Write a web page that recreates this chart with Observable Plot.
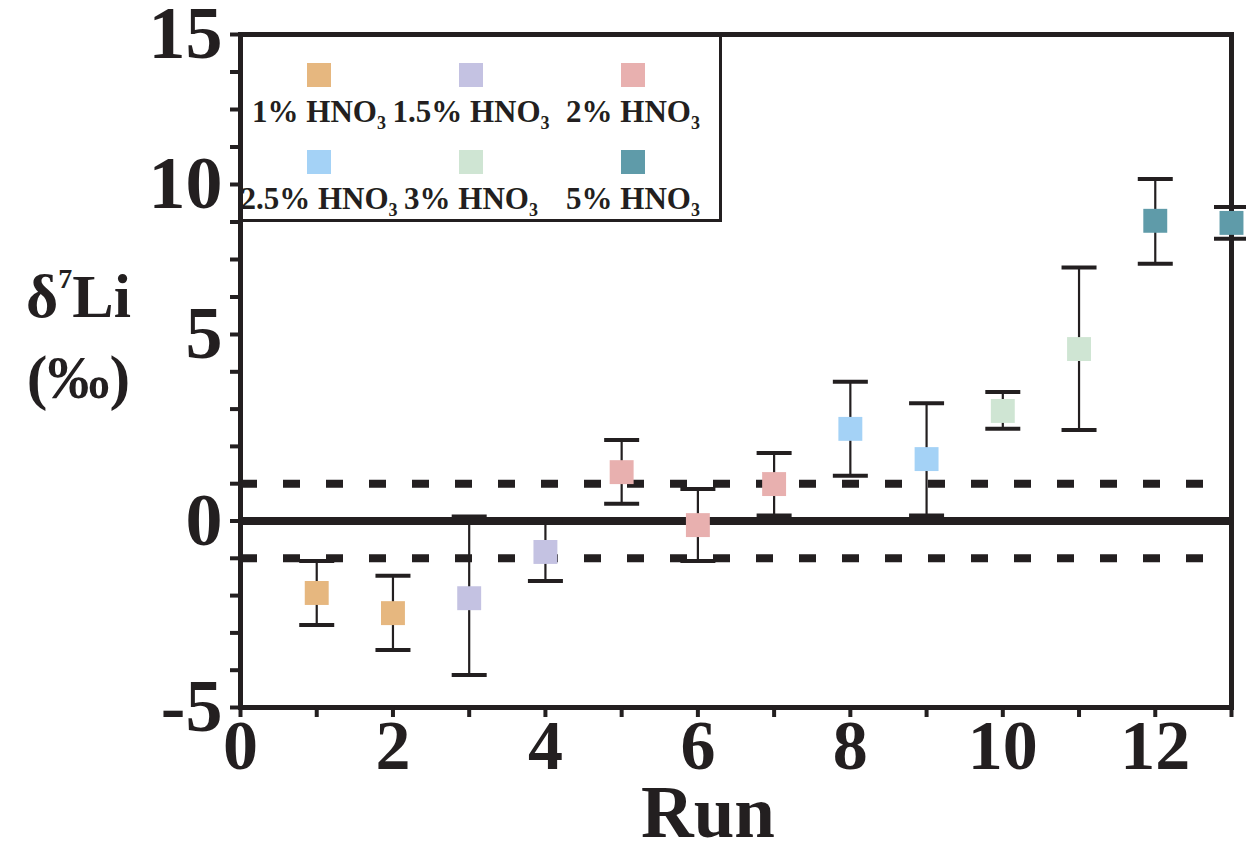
<!DOCTYPE html>
<html>
<head>
<meta charset="utf-8">
<script src="https://cdn.jsdelivr.net/npm/d3@7"></script>
<script src="https://cdn.jsdelivr.net/npm/@observablehq/plot@0.6"></script>
<style>
  body { margin: 0; background: #fff; }
  #wrap { position: relative; width: 1246px; height: 843px; font-family: "Liberation Serif", "Times New Roman", serif; font-weight: bold; color: #231f20; }
  #legend { position: absolute; left: 240px; top: 34px; width: 482px; height: 188px; box-sizing: border-box; border: 3px solid #231f20; background: #fff;
            display: grid; grid-template-columns: 152px 152px 172px; grid-auto-rows: 64px; row-gap: 23px; padding-top: 26px; }
  .item { display: flex; flex-direction: column; align-items: center; }
  .sw { width: 24px; height: 24px; }
  .lab { margin-top: 9px; font-size: 31px; line-height: 31px; white-space: nowrap; }
  .lab sub { font-size: 18px; line-height: 0; vertical-align: -7px; }
  #ylab { position: absolute; left: 0; top: 256px; width: 157px; text-align: center; font-size: 62px; line-height: 81px; }
  #ylab sup { font-size: 28px; line-height: 0; vertical-align: 29px; }
</style>
</head>
<body>
<div id="wrap">
  <div id="chart"></div>
  <div id="legend"></div>
  <div id="ylab">δ<sup>7</sup>Li<br>(‰)</div>
</div>
<script>
// ---- data ----
const runs  = [1, 2, 3, 4, 5, 6, 7, 8, 9, 10, 11, 12, 13];
const means = [-1.93, -2.47, -2.07, -0.83, 1.31, -0.11, 0.99, 2.47, 1.66, 2.95, 4.61, 8.79, 8.72];
const lower = [-2.79, -3.46, -4.13, -1.61, 0.46, -1.07, 0.15, 1.21, 0.15, 2.47, 2.44, 7.36, 8.19];
const upper = [-1.07, -1.47, 0.12, 0.02, 2.17, 0.86, 1.82, 3.73, 3.16, 3.46, 7.23, 10.18, 9.25];
const acidOfRun = ["1%", "1%", "1.5%", "1.5%", "2%", "2%", "2%", "2.5%", "2.5%", "3%", "3%", "5%", "5%"];
const acidLevels = ["1%", "1.5%", "2%", "2.5%", "3%", "5%"];
const acidColors = ["#e6b77f", "#c4c2e2", "#e8b0af", "#a4d2f6", "#cfe5d3", "#5f9ba9"];
const refLevels = [1, -1];
const xTicks = [0, 1, 2, 3, 4, 5, 6, 7, 8, 9, 10, 11, 12, 13];
const xLabels = [0, 2, 4, 6, 8, 10, 12];
const yTicks = [-5, -4, -3, -2, -1, 0, 1, 2, 3, 4, 5, 6.25, 7.5, 8.75, 10, 11.25, 12.5, 13.75, 15];
const yLabels = [-5, 0, 5, 10, 15];

const data = runs.map((r, i) => ({run: r, mean: means[i], lo: lower[i], hi: upper[i], acid: acidOfRun[i]}));
const ink = "#231f20";

const capSymbol = {
  draw(context) {
    context.moveTo(-17.5, 0);
    context.lineTo(17.5, 0);
  }
};

const plot = Plot.plot({
  width: 1246,
  height: 843,
  marginLeft: 240,
  marginRight: 15,
  marginTop: 34,
  marginBottom: 136,
  style: {fontFamily: "'Liberation Serif', 'Times New Roman', serif", fontWeight: "bold", color: ink, background: "#fff", overflow: "visible"},
  x: {domain: [0, 13], label: null},
  y: {type: "linear", domain: [-5, 5, 15], range: [707, 334, 34], nice: false, label: null},
  color: {domain: acidLevels, range: acidColors},
  marks: [
    Plot.frame({stroke: ink, strokeWidth: 5}),
    Plot.ruleY(refLevels, {stroke: ink, strokeWidth: 8, strokeDasharray: "17,26"}),
    Plot.ruleY([0], {stroke: ink, strokeWidth: 8}),
    Plot.axisX(xTicks, {label: null, tickSize: 10, tickPadding: 2, strokeWidth: 4, stroke: ink, fontSize: 70,
      tickFormat: d => xLabels.includes(d) ? String(d) : ""}),
    Plot.axisY(yTicks, {label: null, tickSize: 10, tickPadding: 8, strokeWidth: 4, stroke: ink, fontSize: 74,
      tickFormat: d => yLabels.includes(d) ? String(d) : ""}),
    Plot.ruleX(data, {x: "run", y1: "lo", y2: "hi", stroke: ink, strokeWidth: 2.2}),
    Plot.dot(data, {x: "run", y: "lo", symbol: capSymbol, r: 5, fill: "none", stroke: ink, strokeWidth: 4}),
    Plot.dot(data, {x: "run", y: "hi", symbol: capSymbol, r: 5, fill: "none", stroke: ink, strokeWidth: 4}),
    Plot.dot(data, {x: "run", y: "mean", symbol: "square", r: 13.5, fill: "acid", stroke: null}),
    Plot.text(["Run"], {frameAnchor: "bottom", dx: -28, dy: 106, fontSize: 73, fontWeight: "bold", fill: ink, lineAnchor: "middle"})
  ]
});
document.getElementById("chart").appendChild(plot);

// legend
const leg = document.getElementById("legend");
acidLevels.forEach((a, i) => {
  const item = document.createElement("div");
  item.className = "item";
  const sw = document.createElement("div");
  sw.className = "sw";
  sw.style.background = acidColors[i];
  const lab = document.createElement("div");
  lab.className = "lab";
  lab.innerHTML = a + " HNO<sub>3</sub>";
  item.appendChild(sw);
  item.appendChild(lab);
  leg.appendChild(item);
});
</script>
</body>
</html>
